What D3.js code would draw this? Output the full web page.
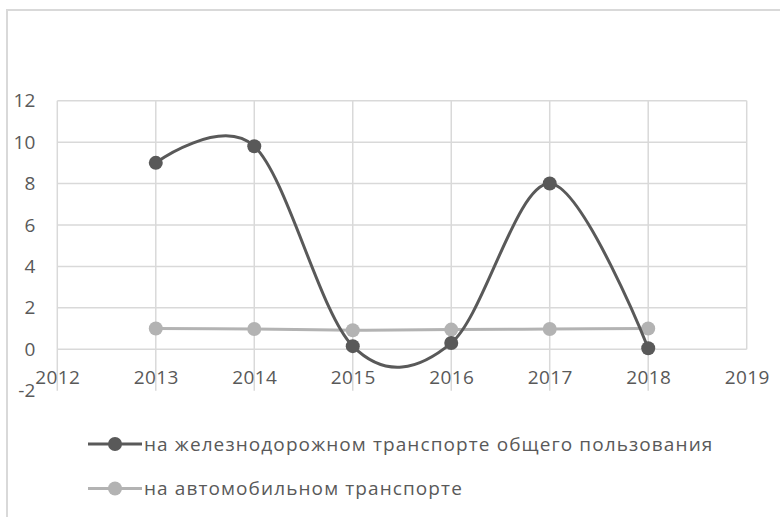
<!DOCTYPE html>
<html>
<head>
<meta charset="utf-8">
<script src="https://cdn.jsdelivr.net/npm/d3@7"></script>
<style>
  html, body { margin: 0; padding: 0; background: #fff; }
  svg { display: block; }
  text { font-family: "Open Sans", "Noto Sans", sans-serif; fill: #595959; }
</style>
</head>
<body>
<svg id="chart" width="780" height="517"></svg>
<script>
// Years on the horizontal axis and the two transport series
const years = [2013, 2014, 2015, 2016, 2017, 2018];
const railValues = [9, 9.8, 0.15, 0.3, 8, 0.05];
const roadValues = [1.0, 0.98, 0.92, 0.95, 0.98, 1.0];
const xTicks = [2012, 2013, 2014, 2015, 2016, 2017, 2018, 2019];
const yTicks = [-2, 0, 2, 4, 6, 8, 10, 12];
const seriesNames = [
  "на железнодорожном транспорте общего пользования",
  "на автомобильном транспорте"
];

const svg = d3.select("#chart");
const W = 780, H = 517;

const x = d3.scaleLinear().domain([2012, 2019]).range([57.3, 746.7]);
const y = d3.scaleLinear().domain([-2, 12]).range([390.7, 100.7]);

const gridColor = "#d9d9d9";
const darkColor = "#595959";
const lightColor = "#b3b3b3";
const labelSize = 19;

// chart frame (only top and left edges fall inside the view)
svg.append("path")
  .attr("d", `M7,${H} V10 H${W}`)
  .attr("fill", "none")
  .attr("stroke", gridColor)
  .attr("stroke-width", 2);

// horizontal gridlines
svg.append("g").selectAll("line")
  .data(yTicks.filter(d => d !== -2))
  .join("line")
  .attr("x1", x(2012)).attr("x2", x(2019))
  .attr("y1", d => y(d)).attr("y2", d => y(d))
  .attr("stroke", gridColor).attr("stroke-width", 1.5);

// vertical gridlines
svg.append("g").selectAll("line")
  .data(xTicks)
  .join("line")
  .attr("x1", d => x(d)).attr("x2", d => x(d))
  .attr("y1", y(12))
  .attr("y2", d => d === 2019 ? y(0) : y(-2))
  .attr("stroke", gridColor).attr("stroke-width", 1.5);

// y axis labels
const yAxis = d3.axisLeft(y).tickValues(yTicks).tickSize(0).tickPadding(22)
  .tickFormat(d => String(d));
const gy = svg.append("g").attr("transform", `translate(${x(2012)},0)`).call(yAxis);
gy.select(".domain").remove();
gy.selectAll("text").attr("font-size", labelSize).attr("fill", darkColor)
  .style("font-family", '"Open Sans", sans-serif');

// x axis labels, sitting just above the bottom of the plot
const xAxis = d3.axisBottom(x).tickValues(xTicks).tickSize(0).tickPadding(0)
  .tickFormat(d => String(d));
const gx = svg.append("g").attr("transform", `translate(0,${y(-2) - 20})`).call(xAxis);
gx.select(".domain").remove();
gx.selectAll("text").attr("font-size", labelSize).attr("fill", darkColor)
  .attr("dy", "0.71em")
  .style("letter-spacing", "0.4px")
  .style("font-family", '"Open Sans", sans-serif');

// smoothed lines
const line = d3.line()
  .x(d => x(d[0]))
  .y(d => y(d[1]))
  .curve(d3.curveCardinal.tension(0));

const series = [
  { name: seriesNames[0], values: railValues, color: darkColor },
  { name: seriesNames[1], values: roadValues, color: lightColor }
];

// draw light series first so the dark one sits on top
[series[1], series[0]].forEach(s => {
  const pts = years.map((yr, i) => [yr, s.values[i]]);
  svg.append("path")
    .datum(pts)
    .attr("d", line)
    .attr("fill", "none")
    .attr("stroke", s.color)
    .attr("stroke-width", 3)
    .attr("stroke-linecap", "round");
  svg.append("g").selectAll("circle")
    .data(pts)
    .join("circle")
    .attr("cx", d => x(d[0]))
    .attr("cy", d => y(d[1]))
    .attr("r", 7)
    .attr("fill", s.color);
});

// legend
const legend = svg.append("g");
series.forEach((s, i) => {
  const ly = 444 + i * 44.5;
  legend.append("line")
    .attr("x1", 88).attr("x2", 142)
    .attr("y1", ly).attr("y2", ly)
    .attr("stroke", s.color).attr("stroke-width", 3);
  legend.append("circle")
    .attr("cx", 115).attr("cy", ly).attr("r", 7)
    .attr("fill", s.color);
  legend.append("text")
    .attr("x", 144).attr("y", ly)
    .attr("dy", "0.35em")
    .attr("font-size", labelSize)
    .style("letter-spacing", "1.1px")
    .attr("fill", darkColor)
    .text(s.name);
});
</script>
</body>
</html>
